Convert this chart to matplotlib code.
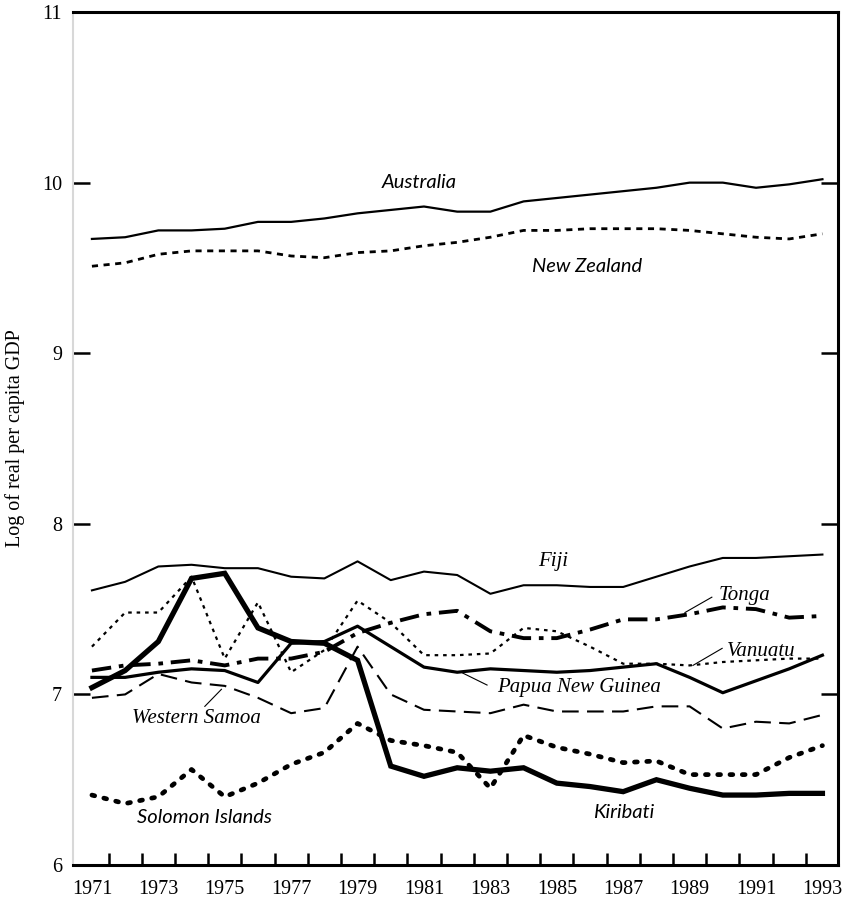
import numpy as np
import matplotlib.pyplot as plt
from matplotlib.ticker import FixedLocator

# log of real per capita GDP, 1971-1993
years = list(range(1971, 1994))
australia = [9.67, 9.68, 9.72, 9.72, 9.73, 9.77, 9.77, 9.79, 9.82, 9.84, 9.86, 9.83,
             9.83, 9.89, 9.91, 9.93, 9.95, 9.97, 10.00, 10.00, 9.97, 9.99, 10.02]
new_zealand = [9.51, 9.53, 9.58, 9.60, 9.60, 9.60, 9.57, 9.56, 9.59, 9.60, 9.63, 9.65,
               9.68, 9.72, 9.72, 9.73, 9.73, 9.73, 9.72, 9.70, 9.68, 9.67, 9.70]
fiji = [7.61, 7.66, 7.75, 7.76, 7.74, 7.74, 7.69, 7.68, 7.78, 7.67, 7.72, 7.70,
        7.59, 7.64, 7.64, 7.63, 7.63, 7.69, 7.75, 7.80, 7.80, 7.81, 7.82]
tonga = [7.14, 7.17, 7.18, 7.20, 7.17, 7.21, 7.21, 7.25, 7.36, 7.42, 7.47, 7.49,
         7.37, 7.33, 7.33, 7.38, 7.44, 7.44, 7.47, 7.51, 7.50, 7.45, 7.46]
vanuatu = [7.28, 7.48, 7.48, 7.69, 7.21, 7.54, 7.13, 7.26, 7.55, 7.42, 7.23, 7.23,
           7.24, 7.39, 7.37, 7.28, 7.18, 7.18, 7.17, 7.19, 7.20, 7.21, 7.21]
png = [7.10, 7.10, 7.13, 7.15, 7.14, 7.07, 7.30, 7.31, 7.40, 7.28, 7.16, 7.13,
       7.15, 7.14, 7.13, 7.14, 7.16, 7.18, 7.10, 7.01, 7.08, 7.15, 7.23]
kiribati = [7.04, 7.14, 7.31, 7.68, 7.71, 7.39, 7.31, 7.30, 7.20, 6.58, 6.52, 6.57,
            6.55, 6.57, 6.48, 6.46, 6.43, 6.50, 6.45, 6.41, 6.41, 6.42, 6.42]
western_samoa = [6.98, 7.00, 7.12, 7.07, 7.05, 6.98, 6.89, 6.92, 7.28, 7.00, 6.91, 6.90,
                 6.89, 6.94, 6.90, 6.90, 6.90, 6.93, 6.93, 6.80, 6.84, 6.83, 6.88]
solomon = [6.41, 6.36, 6.40, 6.56, 6.40, 6.48, 6.59, 6.66, 6.83, 6.73, 6.70, 6.66,
           6.45, 6.76, 6.69, 6.65, 6.60, 6.61, 6.53, 6.53, 6.53, 6.63, 6.70]

year_labels = list(range(1971, 1994, 2))
y_ticks = [6, 7, 8, 9, 10, 11]

plt.rcParams['font.family'] = ['Liberation Serif', 'DejaVu Serif']

fig = plt.figure(figsize=(8.43, 8.99), dpi=100)
ax = fig.add_axes([0.0866, 0.0378, 0.9075, 0.9488])

k = 'black'
ax.plot(years, australia, color=k, lw=1.6)
ax.plot(years, new_zealand, color=k, lw=2.0, dashes=(2.2, 2.0))
ax.plot(years, fiji, color=k, lw=1.5)
ax.plot(years, tonga, color=k, lw=2.8, dashes=(5, 2, 1.2, 2))
ax.plot(years, vanuatu, color=k, lw=1.6, dashes=(1.6, 2.2))
ax.plot(years, png, color=k, lw=2.3)
ax.plot(years, kiribati, color=k, lw=3.8, solid_joinstyle='miter')
ax.plot(years, western_samoa, color=k, lw=1.5, dashes=(8, 4))
ax.plot(years, solomon, color=k, lw=3.4, dashes=(0.6, 2.0), dash_capstyle='round')

ax.set_xlim(1970.43, 1993.47)
ax.set_ylim(6, 11)

ax.xaxis.set_major_locator(FixedLocator(year_labels))
ax.xaxis.set_minor_locator(FixedLocator(np.arange(1971.5, 1993, 1.0)))
ax.tick_params(axis='x', which='major', length=0, pad=11, labelsize=14.5)
ax.tick_params(axis='x', which='minor', direction='in', length=9, width=1.8)
ax.set_yticks(y_ticks)
ax.tick_params(axis='y', direction='in', length=12, width=1.8, right=True,
               labelsize=14.5, pad=8)

for s in ['top', 'right', 'bottom']:
    ax.spines[s].set_linewidth(2.2)
ax.spines['left'].set_color('#d8d8d8')
ax.spines['left'].set_linewidth(1.5)

ax.set_ylabel('Log of real per capita GDP', fontsize=14.5, labelpad=12)

sans = dict(family=['Lato', 'DejaVu Sans'], style='italic', fontsize=14.5)
serif = dict(style='italic', fontsize=15)
ax.text(1980.85, 10.0, 'Australia', ha='center', va='center', **sans)
ax.text(1985.9, 9.51, 'New Zealand', ha='center', va='center', **sans)
ax.text(1984.9, 7.78, 'Fiji', ha='center', va='center', **serif)
ax.text(1989.86, 7.58, 'Tonga', ha='left', va='center', **serif)
ax.text(1990.13, 7.25, 'Vanuatu', ha='left', va='center', **serif)
ax.text(1983.2, 7.04, 'Papua New Guinea', ha='left', va='center', **serif)
ax.text(1972.2, 6.86, 'Western Samoa', ha='left', va='center', **serif)
ax.text(1972.36, 6.28, 'Solomon Islands', ha='left', va='center', **sans)
ax.text(1986.1, 6.31, 'Kiribati', ha='left', va='center', **sans)

# leader lines
ax.plot([1988.86, 1989.67], [7.48, 7.57], color=k, lw=0.8)
ax.plot([1989.1, 1989.98], [7.17, 7.27], color=k, lw=0.8)
ax.plot([1982.17, 1982.9], [7.125, 7.055], color=k, lw=0.8)
ax.plot([1974.4, 1974.9], [6.93, 7.03], color=k, lw=0.8)

fig.savefig('out.png', dpi=100)
